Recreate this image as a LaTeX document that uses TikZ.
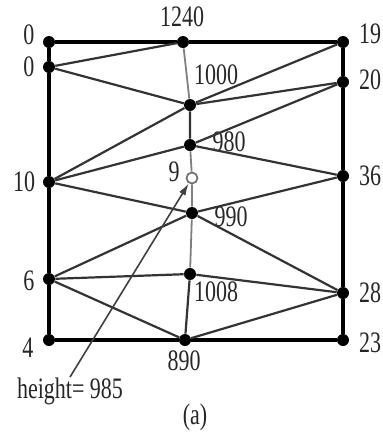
\documentclass[tikz,border=0pt]{standalone}
\usepackage{fontspec}
\setmainfont{Liberation Serif}
\usepackage{graphicx}
\usetikzlibrary{arrows.meta}
\newcommand{\tallnum}[1]{\scalebox{1}[1.35]{#1}}
\tikzset{
  dot/.style={circle,fill=black,inner sep=0pt,minimum size=6pt},
  hole/.style={circle,draw=black!55,fill=white,line width=0.9pt,inner sep=0pt,
    minimum size=5.5pt},
  frame/.style={line width=1.6pt,black},
  link/.style={line width=1.1pt,black!80},
  spine/.style={line width=0.9pt,black!50},
  num/.style={font=\fontsize{11}{13}\selectfont,text=black!85,inner sep=0pt},
  pointer/.style={-{Latex[length=6pt,width=3.6pt]},line width=0.8pt,black!75}
}

\begin{document}
\begin{tikzpicture}[x=0.5pt,y=-0.5pt]
  \useasboundingbox (0,0) rectangle (382,434);
  % left column
  \foreach \i/\y/\tx/\ty/\v in {0/42/29/35/0,1/67/29/67/0,2/182/24/182/10,
      3/279/29/281/6,4/340/28/348/4}{
    \node[dot] (l\i) at (49,\y) {};
    \node[num] (lt\i) at (\tx,\ty) {\tallnum{\v}};
  }
  % right column
  \foreach \i/\y/\ty/\v in {0/42/34/19,1/82/80/20,2/176/176/36,3/293/293/28,
      4/340/343/23}{
    \node[dot] (r\i) at (343,\y) {};
    \node[num] (rt\i) at (370,\ty) {\tallnum{\v}};
  }
  % middle column
  \foreach \i/\x/\y/\tx/\ty/\v in {0/183/42/182/17/1240,1/190/105/216/75/1000,
      2/190/145/229/142/980,3/192/213/231/217/990,4/190/274/216/292/1008,
      5/185/340/184/361/890}{
    \node[dot] (m\i) at (\x,\y) {};
    \node[num] (mt\i) at (\tx,\ty) {\tallnum{\v}};
  }
  \node[hole] (c) at (192,178) {};
  \node[num] (ct) at (174,172) {\tallnum{9}};

  \draw[frame] (l0) -- (m0) -- (r0) -- (r1) -- (r2) -- (r3) -- (r4) -- (m5)
    -- (l4) -- (l3) -- (l2) -- (l1) -- (l0);
  \draw[spine] (m0) -- (m1) (m2) -- (c) -- (m3) -- (m4);
  \draw[link] (m1) -- (m2) (m4) -- (m5);
  \foreach \a/\b in {l1/m0,l1/m1,m1/r0,m1/r1,l2/m1,l2/m2,m2/r1,m2/r2,l2/m3,
      m3/r2,l3/m3,l3/m4,l3/m5,m3/r3,m4/r3,m5/r3}
    \draw[link] (\a) -- (\b);

  \node[num] (hgt) at (70,391) {\tallnum{height= 985}};
  \draw[pointer] (hgt.north) -- (c);
  \node[num] (cap) at (195,417) {\tallnum{(a)}};
\end{tikzpicture}
\end{document}
